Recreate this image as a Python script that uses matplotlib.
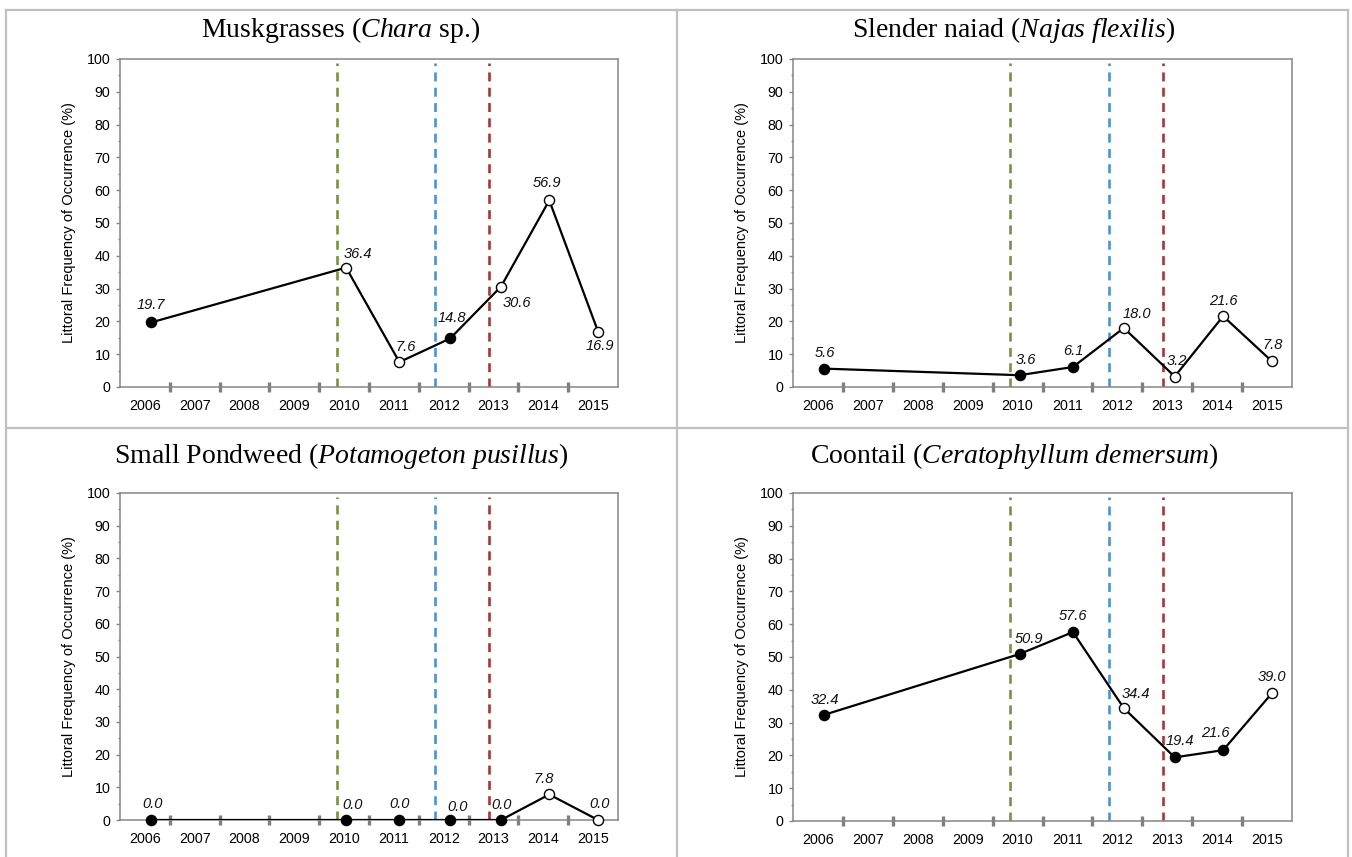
import matplotlib
matplotlib.use('Agg')
import matplotlib.pyplot as plt
from matplotlib.lines import Line2D
from matplotlib.ticker import FixedLocator, NullFormatter, FixedFormatter

plt.rcParams['font.family'] = ['Liberation Sans', 'DejaVu Sans']
plt.rcParams['mathtext.fontset'] = 'custom'
plt.rcParams['mathtext.rm'] = 'Liberation Serif'
plt.rcParams['mathtext.it'] = 'Liberation Serif:italic'

# ---------------- data ----------------
years = ['2006', '2007', '2008', '2009', '2010', '2011', '2012', '2013', '2014', '2015']
survey_dates = [2006.63, 2010.54, 2011.61, 2012.63, 2013.65, 2014.62, 2015.60]
event_dates = [2010.35, 2012.33, 2013.41]

titles = [
    r"Muskgrasses ($\mathit{Chara}$ sp.)",
    r"Slender naiad ($\mathit{Najas\ flexilis)}$",
    r"Small Pondweed ($\mathit{Potamogeton\ pusillus)}$",
    r"Coontail ($\mathit{Ceratophyllum\ demersum}$)",
]

chara_freq = [19.7, 36.4, 7.6, 14.8, 30.6, 56.9, 16.9]
chara_open = [False, True, True, False, True, True, True]
najas_freq = [5.6, 3.6, 6.1, 18.0, 3.2, 21.6, 7.8]
najas_open = [False, False, False, True, True, True, True]
pusillus_freq = [0.0, 0.0, 0.0, 0.0, 0.0, 7.8, 0.0]
pusillus_open = [False, False, False, False, False, True, True]
coontail_freq = [32.4, 50.9, 57.6, 34.4, 19.4, 21.6, 39.0]
coontail_open = [False, False, False, True, False, False, True]

ylabel = "Littoral Frequency of Occurrence (%)"

# ---------------- styling / layout ----------------
event_colors = ['#77933C', '#4F8FDC', '#A4373A']
label_offsets = [
    [(0, 17), (12, 14), (6, 15), (2, 20), (16, -16), (-2, 17), (2, -14)],
    [(0, 16), (6, 15), (0, 16), (13, 14), (2, 16), (0, 15), (1, 16)],
    [(1, 16), (6, 15), (0, 16), (7, 13), (1, 15), (-6, 15), (1, 16)],
    [(0, 15), (9, 15), (0, 16), (12, 14), (5, 16), (-8, 17), (0, 16)],
]

W, H = 1352, 857
fig = plt.figure(figsize=(W / 100, H / 100), dpi=100)
fig.patch.set_facecolor('white')

def fx(px):
    return px / W

def fy(py):
    return 1 - py / H

# panel borders
border_col = '#C0C0C0'
for (x0, y0, x1, y1) in [(6, 10, 1348, 10), (6, 10, 6, 857), (1348, 10, 1348, 857),
                         (677, 10, 677, 857), (6, 428, 1348, 428)]:
    fig.add_artist(Line2D([fx(x0), fx(x1)], [fy(y0), fy(y1)], color=border_col, lw=1.6,
                          transform=fig.transFigure))

# axes boxes (left, top, right, bottom) in pixels
boxes = [(120, 59, 618, 387), (793, 59, 1292, 387), (120, 493, 618, 820), (793, 493, 1292, 821)]
title_pos = [(341, 37), (1014, 37), (341, 463), (1014, 463)]
freqs = [chara_freq, najas_freq, pusillus_freq, coontail_freq]
opens = [chara_open, najas_open, pusillus_open, coontail_open]

spine_col = '#868686'
for i in range(4):
    l, t, r, b = boxes[i]
    ax = fig.add_axes([fx(l), fy(b), fx(r) - fx(l), fy(t) - fy(b)])
    ax.set_xlim(2006, 2016)
    ax.set_ylim(0, 100)
    for s in ax.spines.values():
        s.set_color(spine_col)
        s.set_linewidth(1.1)

    # x axis: boundary ticks and centered year labels
    ax.xaxis.set_major_locator(FixedLocator([2007 + k for k in range(9)]))
    ax.xaxis.set_major_formatter(NullFormatter())
    ax.xaxis.set_minor_locator(FixedLocator([2006.5 + k for k in range(10)]))
    ax.xaxis.set_minor_formatter(FixedFormatter(years))
    ax.tick_params(axis='x', which='major', direction='inout', length=7, width=2.4,
                   color='#7F7F7F')
    ax.tick_params(axis='x', which='minor', length=0, pad=8.5, labelsize=10.3, labelcolor='black')

    # y axis
    ax.yaxis.set_major_locator(FixedLocator(list(range(0, 101, 10))))
    ax.yaxis.set_minor_locator(FixedLocator(list(range(5, 100, 10))))
    ax.tick_params(axis='y', which='major', direction='out', length=3, width=1.0,
                   color='#868686', pad=4, labelsize=10.3, labelcolor='black')
    ax.tick_params(axis='y', which='minor', direction='out', length=1.5, width=1.0,
                   color='#868686')

    # event lines
    for d, c in zip(event_dates, event_colors):
        ax.plot([d, d], [0, 98.8], color=c, lw=1.9, linestyle=(0, (3.4, 2.4)), zorder=2)

    # series
    ax.plot(survey_dates, freqs[i], color='black', lw=1.6, zorder=3)
    for x, y, o in zip(survey_dates, freqs[i], opens[i]):
        ax.plot([x], [y], marker='o', markersize=7.3, markeredgewidth=1.0,
                markeredgecolor='black', markerfacecolor='white' if o else 'black',
                linestyle='none', zorder=4, clip_on=False)
    for (x, y), (dx, dy) in zip(zip(survey_dates, freqs[i]), label_offsets[i]):
        ax.annotate(f"{y:.1f}", (x, y), xytext=(dx, dy), textcoords='offset pixels',
                    ha='center', va='center', fontsize=10.5, style='italic', color='#111111',
                    zorder=5)

    fig.text(fx(l - 51), fy((t + b) / 2), ylabel, rotation=90, ha='center', va='center',
             fontsize=10.5, color='black')
    tx, ty = title_pos[i]
    fig.text(fx(tx), fy(ty), titles[i], ha='center', va='baseline', fontsize=20,
             family='Liberation Serif', color='black')

fig.savefig('out.png', dpi=100, facecolor='white')
